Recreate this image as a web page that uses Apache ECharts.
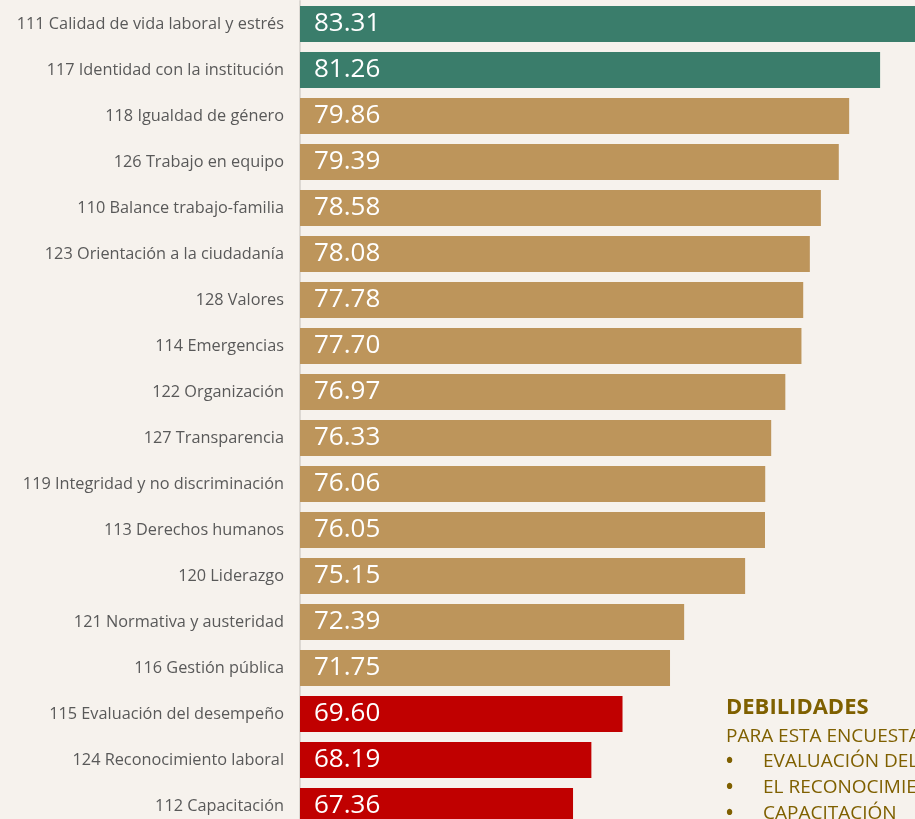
<!DOCTYPE html>
<html lang="es">
<head>
<meta charset="UTF-8">
<title>Resultados por factor</title>
<script src="https://cdn.jsdelivr.net/npm/echarts@6/dist/echarts.min.js"></script>
<style>
  html, body { margin: 0; padding: 0; width: 915px; height: 819px; overflow: hidden; background: #f6f2ed; }
  /* la última barra queda cortada por el borde inferior, como en la lámina */
  #main { width: 915px; height: 830px; }
</style>
</head>
<body>
<div id="main"></div>
<script>
// datos (de arriba hacia abajo)
var categories = [
  '111 Calidad de vida laboral y estrés',
  '117 Identidad con la institución',
  '118 Igualdad de género',
  '126 Trabajo en equipo',
  '110 Balance trabajo-familia',
  '123 Orientación a la ciudadanía',
  '128 Valores',
  '114 Emergencias',
  '122 Organización',
  '127 Transparencia',
  '119 Integridad y no discriminación',
  '113 Derechos humanos',
  '120 Liderazgo',
  '121 Normativa y austeridad',
  '116 Gestión pública',
  '115 Evaluación del desempeño',
  '124 Reconocimiento laboral',
  '112 Capacitación'
];
var values = [83.31, 81.26, 79.86, 79.39, 78.58, 78.08, 77.78, 77.70, 76.97, 76.33,
              76.06, 76.05, 75.15, 72.39, 71.75, 69.60, 68.19, 67.36];
// grupo: 0 fortaleza, 1 medio, 2 debilidad
var groups = [0, 0, 1, 1, 1, 1, 1, 1, 1, 1, 1, 1, 1, 1, 1, 2, 2, 2];
var groupColors = ['#3a7d6b', '#bd955b', '#c00000'];
var debilidades = ['EVALUACIÓN DEL', 'EL RECONOCIMIENTO', 'CAPACITACIÓN'];

var chart = echarts.init(document.getElementById('main'));

var graphics = [
  { type: 'text', left: 726, top: 697, style: { text: 'DEBILIDADES', fill: '#7f6000', font: 'bold 22px "Open Sans"' } },
  { type: 'text', left: 726, top: 727, style: { text: 'PARA ESTA ENCUESTA', fill: '#7f6000', font: '19px "Open Sans"' } }
];
debilidades.forEach(function (t, i) {
  graphics.push({ type: 'text', left: 726, top: 752 + i * 26, style: { text: '•', fill: '#7f6000', font: 'bold 19px "Open Sans"' } });
  graphics.push({ type: 'text', left: 763, top: 752 + i * 26, style: { text: t, fill: '#7f6000', font: '19px "Open Sans"' } });
});

var option = {
  backgroundColor: '#f6f2ed',
  animation: false,
  grid: { left: 300, right: 0, top: 1, bottom: 1, containLabel: false },
  xAxis: {
    type: 'value',
    min: 55,
    max: 82.84,
    show: false
  },
  yAxis: {
    type: 'category',
    inverse: true,
    data: categories,
    axisTick: { show: false },
    axisLine: { show: true, lineStyle: { color: '#dcd8d3', width: 2 } },
    axisLabel: {
      color: '#595959',
      fontFamily: 'Open Sans',
      fontSize: 16.3,
      margin: 16
    }
  },
  series: [{
    type: 'bar',
    barWidth: 36,
    clip: true,
    data: values.map(function (v, i) {
      return { value: v, itemStyle: { color: groupColors[groups[i]] } };
    }),
    label: {
      show: true,
      position: 'insideLeft',
      distance: 14,
      color: '#ffffff',
      fontFamily: 'Open Sans',
      fontSize: 26,
      formatter: function (p) { return p.value.toFixed(2); }
    }
  }],
  graphic: graphics
};

chart.setOption(option);
</script>
</body>
</html>
